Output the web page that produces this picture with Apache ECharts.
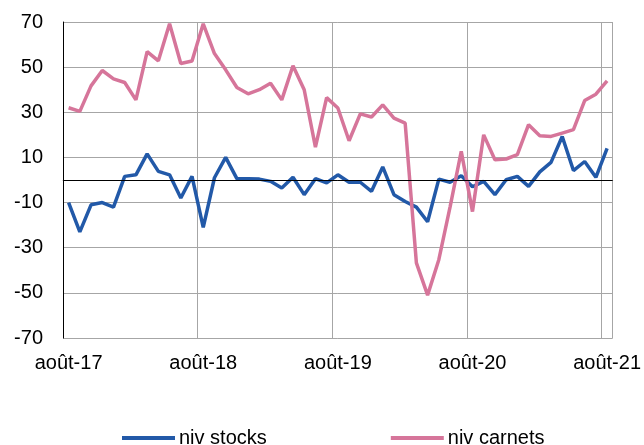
<!DOCTYPE html>
<html>
<head>
<meta charset="utf-8">
<script src="https://cdn.jsdelivr.net/npm/echarts@6/dist/echarts.min.js"></script>
<style>
  html, body { margin: 0; padding: 0; background: #fff; }
  #chart { width: 644px; height: 445px; }
</style>
</head>
<body>
<div id="chart"></div>
<script>
// mois de août-17 à août-21
var moisNoms = ['janv', 'févr', 'mars', 'avr', 'mai', 'juin', 'juil', 'août', 'sept', 'oct', 'nov', 'déc'];
var categories = [];
for (var k = 0; k < 49; k++) {
    var m = (7 + k) % 12;
    var an = 17 + Math.floor((7 + k) / 12);
    categories.push(moisNoms[m] + '-' + an);
}

var nivStocks = [
    -10, -23, -11, -10, -12, 1.6, 2.3, 11.6, 3.8, 2.3, -8, 1.6,
    -21, 1, 10, 0.6, 0.6, 0.4, -0.6, -3.5, 1.2, -6.5, 0.6, -1.3,
    2.3, -1, -1, -5, 5.8, -6.5, -9.5, -12, -18.5, 0.4, -1, 1.9,
    -3, -0.6, -6.5, 0.1, 1.6, -2.8, 3.6, 7.8, 19.3, 4.2, 8.2, 1.2,
    14
];
var nivCarnets = [
    32, 30.4, 41.7, 48.5, 44.8, 43.2, 35.5, 56.9, 52.8, 69.2, 51.6, 52.7,
    69.2, 56, 48.8, 41, 38.2, 40, 42.9, 35.5, 50.6, 40, 14.6, 36.5,
    31.9, 17.4, 29.3, 27.9, 33.3, 27.4, 25.2, -36.7, -51, -35.3, -12, 12.7,
    -14, 20, 9, 9.3, 11.2, 24.5, 19.6, 19.3, 20.8, 22.3, 35.2, 38,
    43.9
];

var font = 'Liberation Sans, Arial, sans-serif';

var chart = echarts.init(document.getElementById('chart'));
chart.setOption({
    animation: false,
    grid: { left: 63, top: 22, width: 551, height: 316, containLabel: false },
    legend: {
        left: 117,
        top: 423,
        itemWidth: 53,
        itemHeight: 4,
        itemGap: 124,
        icon: 'rect',
        textStyle: { fontFamily: font, fontSize: 20, color: '#000', padding: [0, 0, 0, -1] },
        data: ['niv stocks', 'niv carnets']
    },
    xAxis: {
        type: 'category',
        data: categories,
        boundaryGap: true,
        axisLine: { show: true, lineStyle: { color: '#a6a6a6', width: 1 } },
        axisTick: { show: false },
        axisLabel: {
            interval: function (idx) { return idx % 12 === 0 },
            fontFamily: font, fontSize: 20, color: '#000', margin: 15
        },
        splitLine: {
            show: true,
            interval: function (idx) { return idx % 12 === 0 },
            lineStyle: { color: '#a6a6a6', width: 1 }
        }
    },
    yAxis: {
        type: 'value',
        min: -70,
        max: 70,
        interval: 20,
        axisLine: { show: true, lineStyle: { color: '#000', width: 1 } },
        axisTick: { show: false },
        axisLabel: { fontFamily: font, fontSize: 20, color: '#000', margin: 20 },
        splitLine: { show: true, lineStyle: { color: '#a6a6a6', width: 1 } }
    },
    series: [
        {
            name: 'niv stocks',
            type: 'line',
            data: nivStocks,
            symbol: 'none',
            color: '#2259a8',
            lineStyle: { width: 3.5, color: '#2259a8' },
            markLine: {
                silent: true,
                symbol: 'none',
                label: { show: false },
                lineStyle: { color: '#000', width: 1, type: 'solid' },
                data: [{ yAxis: 0 }]
            }
        },
        {
            name: 'niv carnets',
            type: 'line',
            data: nivCarnets,
            symbol: 'none',
            color: '#d6759a',
            lineStyle: { width: 3.5, color: '#d6759a' }
        }
    ]
});
</script>
</body>
</html>
